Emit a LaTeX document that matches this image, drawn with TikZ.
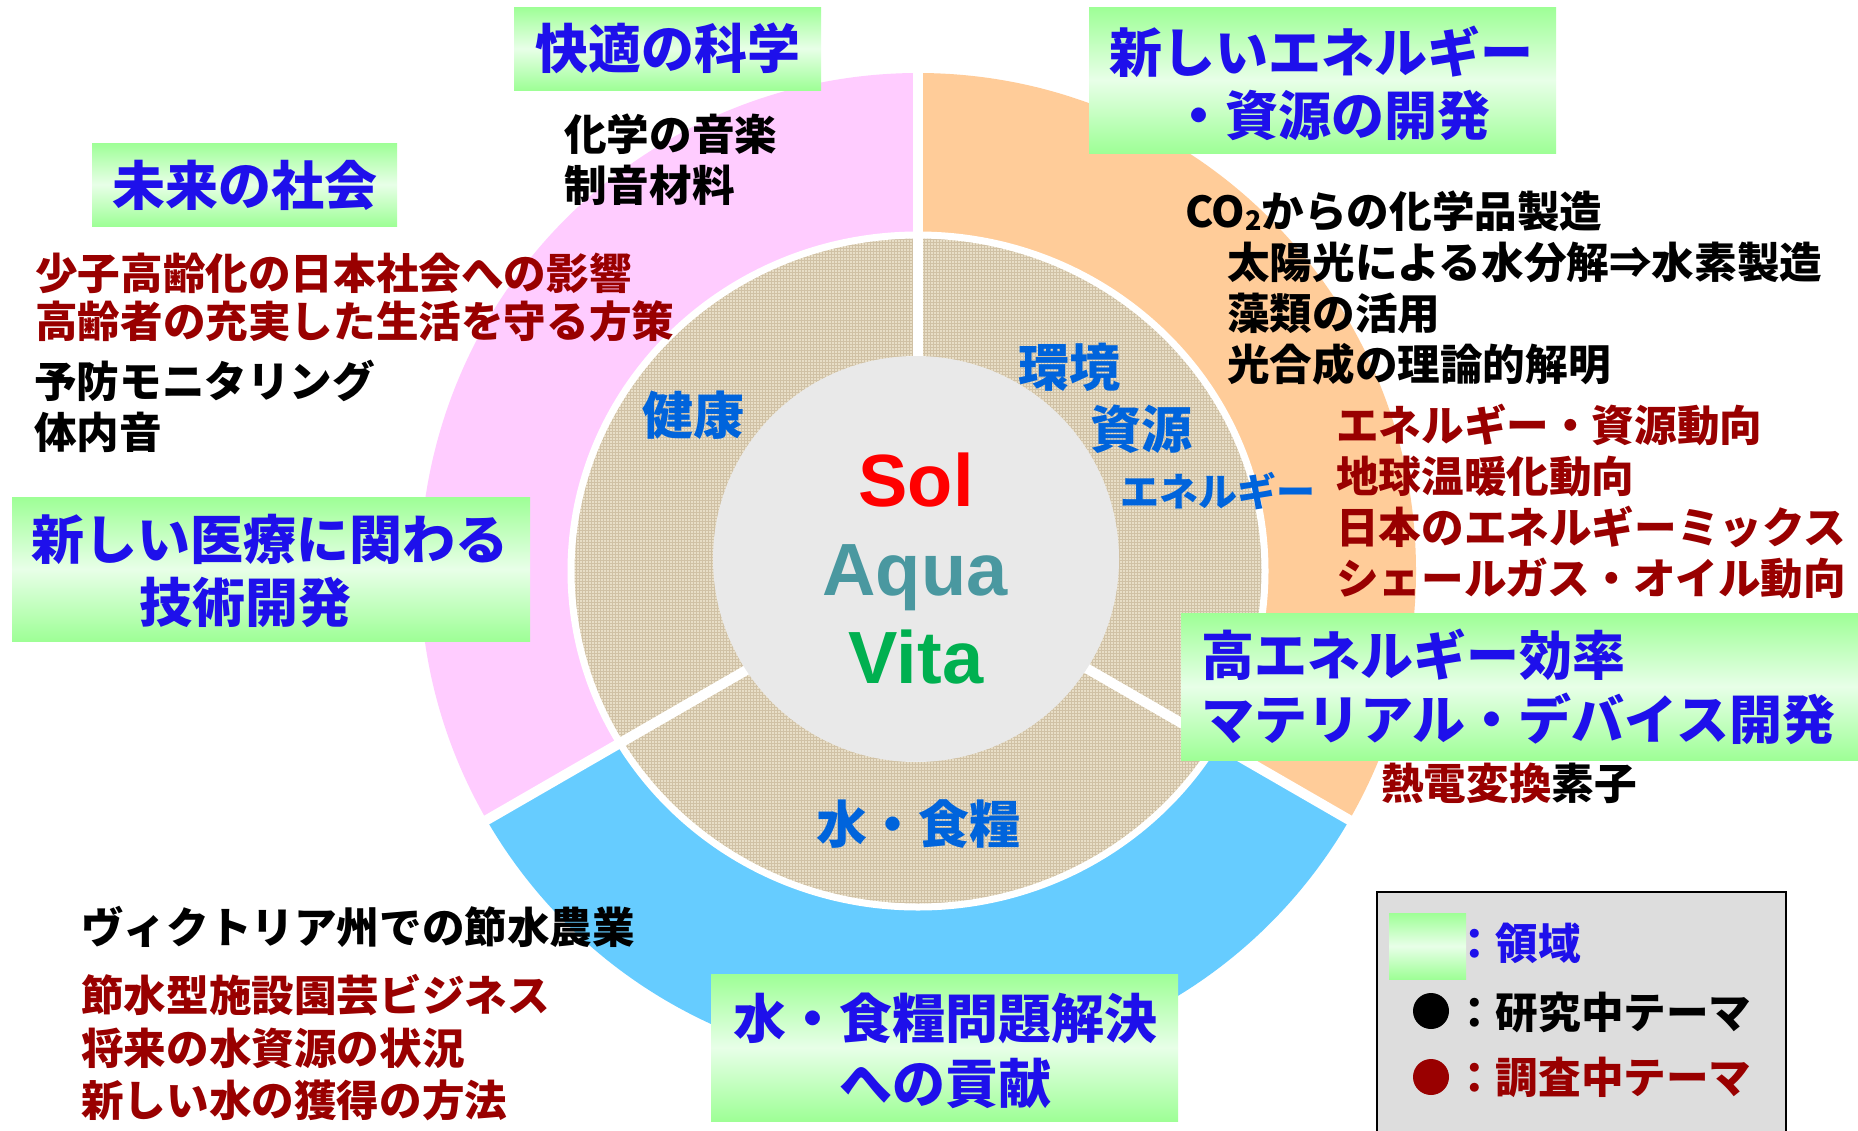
\documentclass[tikz,border=0pt]{standalone}
\usepackage{fontspec}
\newfontfamily\jp{Noto Sans CJK JP}
\newfontfamily\lat{Liberation Sans}
\usetikzlibrary{patterns}
\definecolor{ringpink}{RGB}{255,204,255}
\definecolor{ringorange}{RGB}{255,204,153}
\definecolor{ringblue}{RGB}{102,204,255}
\definecolor{beigebase}{RGB}{232,222,199}
\definecolor{beigedark}{RGB}{208,193,165}
\definecolor{centergray}{RGB}{233,233,233}
\definecolor{titleblue}{RGB}{30,16,235}
\definecolor{labelblue}{RGB}{0,100,220}
\definecolor{darkred}{RGB}{153,0,0}
\definecolor{gboxgreen}{RGB}{158,255,150}
\definecolor{gboxlight}{RGB}{232,255,232}
\definecolor{legendgray}{RGB}{221,221,221}
\definecolor{solred}{RGB}{255,0,0}
\definecolor{aquateal}{RGB}{74,152,160}
\definecolor{vitagreen}{RGB}{0,176,80}
\begin{document}
\begin{tikzpicture}[x=1pt,y=-1pt,
  gshade/.style={top color=gboxgreen, bottom color=gboxgreen, middle color=gboxlight},
  title/.style={font=\jp\bfseries\fontsize{53}{62}\selectfont, text=titleblue, inner sep=0pt},
  body/.style={font=\jp\bfseries\fontsize{42.6}{50}\selectfont, text=black, inner sep=0pt, anchor=west},
  redbody/.style={body, text=darkred},
  ringlabel/.style={font=\jp\bfseries\fontsize{51}{60}\selectfont, text=labelblue, inner sep=0pt},
  latin/.style={font=\lat\bfseries\fontsize{74}{80}\selectfont, inner sep=0pt, anchor=base},
  sepline/.style={white, line width=10pt},
]
\useasboundingbox (0,0) rectangle (1858,1130);
\fill[white] (0,0) rectangle (1858,1130);
\coordinate (C) at (918,571);
\coordinate (G) at (916,559);
% outer ring sectors
\fill[ringpink] (C) -- ++(150:498) arc[start angle=150, end angle=270, radius=498] -- cycle;
\fill[ringorange] (C) -- ++(-90:498) arc[start angle=-90, end angle=30, radius=498] -- cycle;
\fill[ringblue] (C) -- ++(30:498) arc[start angle=30, end angle=150, radius=498] -- cycle;
% beige textured disc
\fill[beigebase] (C) ellipse[x radius=347, y radius=336];
\fill[pattern=grid, pattern color=beigedark] (C) ellipse[x radius=347, y radius=336];
\draw[white, line width=7pt] (C) ellipse[x radius=347, y radius=336];
% separators
\draw[sepline] (C) -- ++(-90:505);
\draw[sepline] (C) -- ++(30:505);
\draw[sepline] (C) -- ++(150:505);
% center disc
\fill[centergray] (G) circle[radius=203];
\node[latin, text=solred] (sol) at (916,506) {Sol};
\node[latin, text=aquateal] (aqua) at (915,595) {Aqua};
\node[latin, text=vitagreen] (vita) at (916,683) {Vita};
% ring labels
\node[ringlabel] (kenko) at (693,415) {健康};
\node[ringlabel] (kankyo) at (1069,367) {環境};
\node[ringlabel] (shigen) at (1141,429) {資源};
\node[ringlabel, font=\jp\bfseries\fontsize{39}{44}\selectfont] (energy) at (1218,491) {エネルギー};
\node[ringlabel] (mizu) at (918,824) {水・食糧};
% texts
\node[body] (kagaku) at (564,134) {化学の音楽};
\node[body] (seion) at (564,185) {制音材料};
\node[redbody] (shoshi) at (35,273) {少子高齢化の日本社会への影響};
\node[redbody] (koreisha) at (35,321) {高齢者の充実した生活を守る方策};
\node[body] (yobo) at (34,381) {予防モニタリング};
\node[body] (tainai) at (34,432) {体内音};
\node[body] (co2) at (1185,211) {CO\raisebox{-3pt}{\fontsize{27}{27}\selectfont 2}からの化学品製造};
\node[body] (taiyo) at (1227,262) {太陽光による水分解⇒水素製造};
\node[body] (sorui) at (1227,313) {藻類の活用};
\node[body] (kogo) at (1227,364) {光合成の理論的解明};
\node[redbody] (doko) at (1336,425) {エネルギー・資源動向};
\node[redbody] (chikyu) at (1336,476) {地球温暖化動向};
\node[redbody] (mix) at (1336,527) {日本のエネルギーミックス};
\node[redbody] (shale) at (1336,578) {シェールガス・オイル動向};
\node[body] (netsu) at (1381,783) {{\color{darkred}熱電変換}素子};
\node[body] (victoria) at (81,927) {ヴィクトリア州での節水農業};
\node[redbody] (sessui) at (81,995) {節水型施設園芸ビジネス};
\node[redbody] (shorai) at (81,1048) {将来の水資源の状況};
\node[redbody] (atarashii) at (81,1100) {新しい水の獲得の方法};
% green title boxes
\shade[gshade] (514,7) rectangle (821,90);
\node[title] (kaiteki) at (668,48) {快適の科学};
\shade[gshade] (92,143) rectangle (397,226);
\node[title] (mirai) at (245,185) {未来の社会};
\shade[gshade] (1089,7) rectangle (1556,153);
\node[title] (newene1) at (1321,52) {新しいエネルギー};
\node[title] (newene2) at (1331,115) {・資源の開発};
\shade[gshade] (12,497) rectangle (530,641);
\node[title] (iryo1) at (270,539) {新しい医療に関わる};
\node[title] (iryo2) at (245,602) {技術開発};
\shade[gshade] (1181,613) rectangle (1858,760);
\node[title, anchor=west] (koene1) at (1201,655) {高エネルギー効率};
\node[title, anchor=west] (koene2) at (1201,719) {マテリアル・デバイス開発};
\shade[gshade] (711,974) rectangle (1178,1121);
\node[title] (mondai1) at (945,1018) {水・食糧問題解決};
\node[title] (mondai2) at (945,1083) {への貢献};
% legend
\draw[fill=legendgray, line width=1.5pt] (1377,892) rectangle (1786,1140);
\shade[gshade] (1389,913) rectangle (1466,979);
\node[body, text=titleblue] (lg1) at (1453,943) {：領域};
\fill[black] (1431,1011) circle[radius=18];
\node[body] (lg2) at (1453,1012) {：研究中テーマ};
\fill[darkred] (1431,1077) circle[radius=18];
\node[redbody] (lg3) at (1453,1077) {：調査中テーマ};
\end{tikzpicture}
\end{document}
